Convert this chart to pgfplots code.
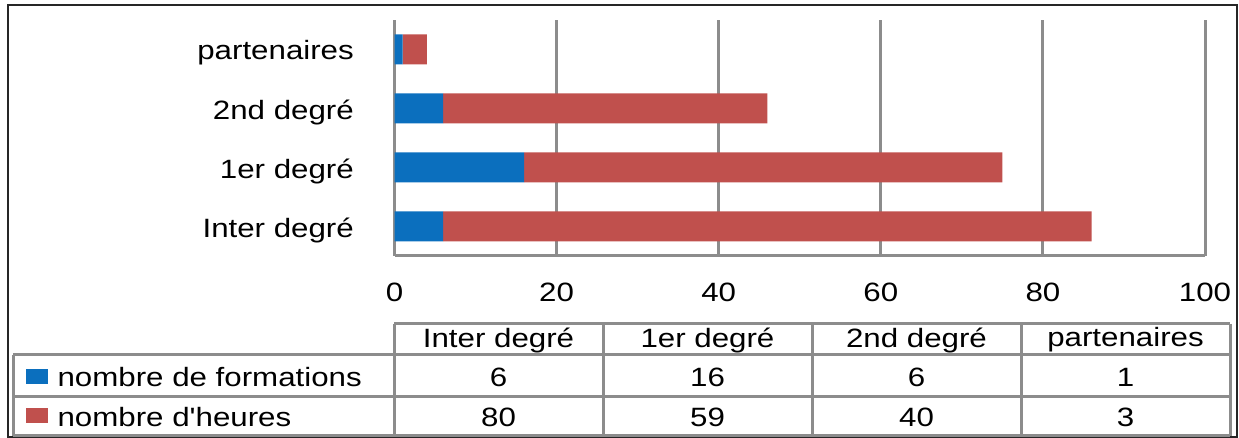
\documentclass[border=0pt]{standalone}
\usepackage{pgfplots}
\pgfplotsset{compat=1.18}
\usepackage{pgfplotstable}
\usepackage{fontspec}
\setmainfont{Liberation Sans}

\definecolor{formblue}{RGB}{11,111,190}
\definecolor{heurered}{RGB}{192,80,77}
\definecolor{gridgray}{RGB}{140,140,140}
\newcommand\lbl{\fontsize{10.6}{12}\selectfont}

% Formation data per category
\pgfplotstableread{
idx cat form heures
0 {Inter degré} 6 80
1 {1er degré} 16 59
2 {2nd degré} 6 40
3 partenaires 1 3
}\data

\begin{document}
\begin{tikzpicture}
% page size and outer frame (1 unit = 0.4pt, y downwards)
\begin{scope}[x=0.4pt,y=-0.4pt]
  \path[use as bounding box] (0,0) rectangle (1239,438);
  \draw[line width=0.8pt, black!85] (8,5) rectangle (1237,437);
\end{scope}

\begin{axis}[
  at={(394.5*0.4pt,-256*0.4pt)}, anchor=south west,
  scale only axis,
  width=324.2pt, height=94.4pt,
  xmin=0, xmax=100, ymin=-0.5, ymax=3.5,
  xbar stacked, bar width=12pt,
  xtick={0,20,...,100},
  ytick={0,1,2,3},
  yticklabels from table={\data}{cat},
  major tick length=0pt,
  axis x line*=bottom, axis y line*=left,
  axis line style={gridgray, line width=1.2pt, -},
  xmajorgrids,
  grid style={gridgray, line width=1.2pt},
  /pgf/number format/assume math mode=true,
  ticklabel style={font=\lbl, text=black, xscale=1.18, inner sep=0pt},
  xticklabel style={anchor=center, yshift=-14.4pt},
  yticklabel style={anchor=east, xshift=-13.6pt, yshift=-1.4pt},
  clip=false,
]
\addplot[fill=formblue, draw=none] table[x=form, y=idx] {\data};
\addplot[fill=heurered, draw=none] table[x=heures, y=idx] {\data};
\end{axis}

% data table below the chart
\begin{scope}[x=0.4pt,y=-0.4pt]
  \begin{scope}[gridgray, line width=1.2pt]
    \draw (394,324) -- (1230,324);
    \foreach \yy in {355,397,436} \draw (13,\yy) -- (1230,\yy);
    \draw (13,355) -- (13,436);
    \foreach \xx in {394,603,812,1021,1230} \draw (\xx,324) -- (\xx,436);
  \end{scope}
  \fill[formblue] (26,369) rectangle (48,384);
  \fill[heurered] (26,408) rectangle (48,423);
  \node[anchor=west, font=\lbl, xscale=1.18, inner sep=0pt] at (57,377) {nombre de formations};
  \node[anchor=west, font=\lbl, xscale=1.18, inner sep=0pt] at (57,417) {nombre d\textquotesingle heures};
  \foreach \r in {0,...,3}{
    \pgfplotstablegetelem{\r}{cat}\of\data
    \node[font=\lbl, xscale=1.18, inner sep=0pt] at ({498.5+209*\r},340) {\pgfplotsretval};
    \pgfplotstablegetelem{\r}{form}\of\data
    \node[font=\lbl, xscale=1.18, inner sep=0pt] at ({498.5+209*\r},377) {\pgfplotsretval};
    \pgfplotstablegetelem{\r}{heures}\of\data
    \node[font=\lbl, xscale=1.18, inner sep=0pt] at ({498.5+209*\r},417) {\pgfplotsretval};
  }
\end{scope}
\end{tikzpicture}
\end{document}
